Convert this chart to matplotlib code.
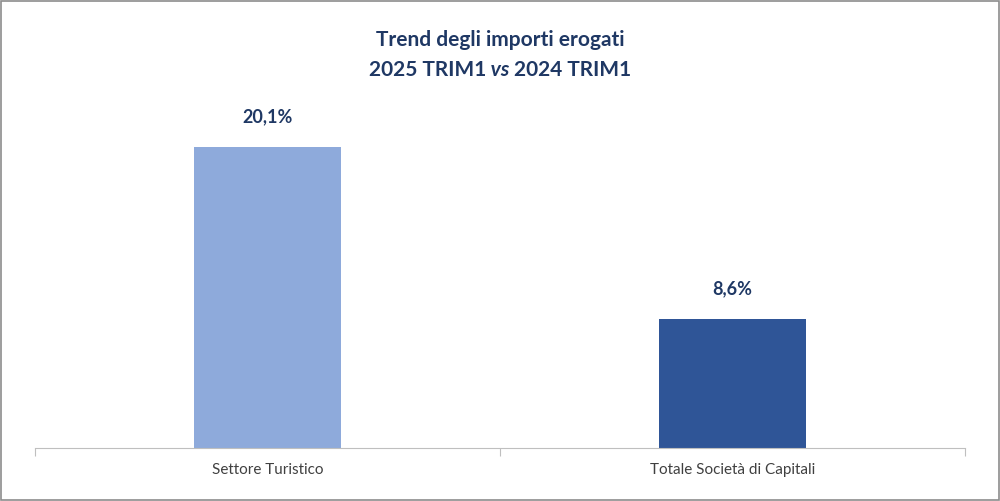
import matplotlib
matplotlib.use("Agg")
import matplotlib.pyplot as plt
from matplotlib.patches import Rectangle

categories = ["Settore Turistico", "Totale Società di Capitali"]
values = [20.1, 8.6]
labels = ["20,1%", "8,6%"]
colors = ["#8EAADB", "#2F5597"]
navy = "#1F3864"

plt.rcParams["font.family"] = "Lato"
fig = plt.figure(figsize=(10, 5.01), dpi=100)
ax = fig.add_axes([0.035, 1 - 448 / 501, 0.93, 348 / 501])

x = [0, 1]
ax.bar(x, values, width=0.316, color=colors)
for xi, v, lab in zip(x, values, labels):
    ax.annotate(lab, (xi, v), xytext=(0, 16), textcoords="offset points",
                ha="center", va="bottom", fontsize=13, fontweight="bold", color=navy)

ax.set_xlim(-0.5, 1.5)
ax.set_ylim(0, 23.24)
ax.set_yticks([])
ax.set_xticks([-0.5, 0.5, 1.5])
ax.set_xticklabels([])
ax.tick_params(axis="x", length=6, color="#BFBFBF")
for xi, c in zip(x, categories):
    ax.text(xi, -1.0, c, ha="center", va="top", fontsize=11, color="#404040")
for s in ["top", "right", "left"]:
    ax.spines[s].set_visible(False)
ax.spines["bottom"].set_color("#BFBFBF")

fig.text(0.5, 1 - 40 / 501, "Trend degli importi erogati", ha="center", va="center",
         fontsize=15, fontweight="bold", color=navy)
t1 = fig.text(0.5, 1 - 70 / 501, " vs ", ha="center", va="center",
              fontsize=15, fontweight="bold", style="italic", color=navy)
fig.canvas.draw()
fig.text(0, 0.5, "2025 TRIM1", transform=t1.get_transform(), fontsize=15,
         fontweight="bold", color=navy, ha="right", va="center")
a = ax.annotate("2025 TRIM1", xy=(0, 0.5), xycoords=t1, ha="right", va="center",
                fontsize=15, fontweight="bold", color=navy)
a.remove()
ax.annotate("2025 TRIM1", xy=(0, 0.5), xycoords=t1, ha="right", va="center",
            fontsize=15, fontweight="bold", color=navy, annotation_clip=False)
ax.annotate("2024 TRIM1", xy=(1, 0.5), xycoords=t1, ha="left", va="center",
            fontsize=15, fontweight="bold", color=navy, annotation_clip=False)
fig.texts[-1].remove()

fig.add_artist(Rectangle((0.001, 0.002), 0.998, 0.996, transform=fig.transFigure,
                         fill=False, edgecolor="#8C8C8C", linewidth=1.2))
fig.savefig("out.png", dpi=100)
